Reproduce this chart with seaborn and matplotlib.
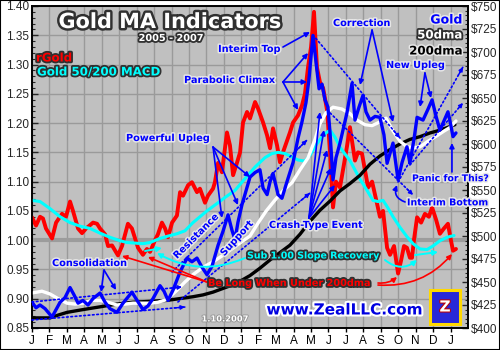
import numpy as np
import pandas as pd
import matplotlib
matplotlib.use("Agg")
import matplotlib.pyplot as plt
import matplotlib.patheffects as pe
from matplotlib.patches import Rectangle
from matplotlib.ticker import MultipleLocator, FuncFormatter
import seaborn as sns

# ---------------- data (time in months since Jan 2005) ----------------
month_labels = ["J", "F", "M", "A", "M", "J", "J", "A", "S", "O", "N", "D",
                "J", "F", "M", "A", "M", "J", "J", "A", "S", "O", "N", "D", "J"]

rgold_t = [0.00, 0.23, 0.46, 0.63, 0.80, 1.15, 1.38, 1.72, 1.95, 2.18, 2.35, 2.64, 2.87, 3.10,
           3.50, 3.73, 3.90, 4.19, 4.36, 4.59, 4.93, 5.16, 5.50, 5.73, 6.08, 6.36, 6.59, 6.77,
           7.05, 7.22, 7.45, 7.63, 7.80, 8.03, 8.31, 8.49, 8.66, 8.95, 9.17, 9.46, 9.63, 9.92,
           10.09, 10.38, 10.49, 10.67, 10.89, 11.18, 11.35, 11.53, 11.75, 11.93, 12.10, 12.33,
           12.50, 12.79, 12.96, 13.25, 13.48, 13.65, 13.82, 14.05, 14.22, 14.39, 14.79, 14.97,
           15.25, 15.48, 15.65, 15.83, 16.00, 16.17,
           16.34, 16.51, 16.69, 16.92, 17.09, 17.26, 17.43, 17.66, 17.89, 18.06, 18.23, 18.52,
           18.69, 18.92, 19.09, 19.27, 19.50, 19.78, 19.95, 20.13, 20.36, 20.53, 20.76, 20.99,
           21.16, 21.33, 21.50, 21.67, 21.79, 21.90, 22.08, 22.31, 22.53, 22.76, 22.94, 23.17,
           23.39, 23.62, 23.85, 24.02, 24.14, 24.31]
rgold_v = [1.039, 1.025, 1.040, 1.037, 1.020, 1.003, 1.030, 1.045, 1.040, 1.066, 1.050, 1.020, 1.012, 1.020,
           1.030, 1.028, 1.020, 1.010, 0.990, 0.991, 0.974, 0.990, 1.028, 1.020, 0.987, 0.975, 0.985, 0.980,
           1.000, 1.010, 1.030, 1.020, 1.005, 1.030, 1.042, 1.082, 1.076, 1.094, 1.099, 1.082, 1.088, 1.064,
           1.076, 1.088, 1.099, 1.132, 1.116, 1.184, 1.162, 1.111, 1.132, 1.150, 1.201, 1.219,
           1.208, 1.236, 1.225, 1.201, 1.179, 1.157, 1.191, 1.162, 1.133, 1.150, 1.184, 1.201,
           1.213, 1.230, 1.250, 1.296, 1.330, 1.390,
           1.295, 1.270, 1.260, 1.222, 1.150, 1.056, 1.100, 1.090, 1.130, 1.160, 1.193, 1.136,
           1.150, 1.148, 1.120, 1.090, 1.100, 1.063, 1.040, 1.050, 0.987, 0.975, 0.990, 0.943,
           0.965, 0.990, 0.987, 0.970, 0.970, 1.000, 1.039, 1.030, 1.045, 1.040, 1.056, 1.035,
           1.011, 1.020, 1.028, 1.000, 0.982, 0.985]

gold_t = [0.00, 0.23, 0.46, 0.75, 1.15, 1.38, 1.61, 1.89, 2.18, 2.41, 2.64, 2.92, 3.21, 3.50,
          3.90, 4.19, 4.47, 4.87, 5.22, 5.73, 5.96, 6.36, 6.65, 6.94, 7.34, 7.57, 7.80, 8.08,
          8.49, 8.89, 9.17, 9.46, 9.75, 10.03, 10.32, 10.67, 10.95, 11.24, 11.47, 11.64, 11.81,
          12.04, 12.50, 12.79, 13.07, 13.25, 13.48, 13.65, 13.82, 14.11, 14.33, 14.62, 14.97,
          15.25, 15.48, 15.71, 15.88, 16.11, 16.28, 16.46, 16.63, 16.80, 16.97, 17.09, 17.26, 17.43,
          17.66, 17.89, 18.06, 18.35, 18.52, 18.75, 18.98, 19.15, 19.38, 19.67, 19.95, 20.18,
          20.36, 20.53, 20.70, 20.99, 21.22, 21.50, 21.67, 21.90, 22.08, 22.42, 22.71, 22.94,
          23.17, 23.39, 23.62, 23.85, 24.02, 24.14, 24.31]
gold_v = [428, 422, 425, 421, 412, 420, 428, 433, 444, 436, 427, 430, 425, 432,
          438, 428, 421, 417, 427, 439, 432, 420, 424, 432, 446, 440, 430, 441,
          461, 476, 472, 476, 466, 458, 467, 490, 505, 523, 506, 496, 515,
          534, 564, 569, 572, 552, 545, 559, 568, 545, 541, 559, 580,
          606, 624, 645, 670, 718, 690, 660, 665, 648, 640, 612, 561, 585,
          601, 620, 634, 666, 626, 640, 653, 635, 626, 630, 629, 610,
          579, 590, 601, 561, 580, 597, 579, 605, 629, 626, 638, 648,
          630, 615, 625, 635, 620, 608, 612]

macd_t = [0.00, 0.46, 1.03, 1.61, 2.18, 2.75, 3.33, 3.90, 4.47, 5.05, 5.45, 5.91, 6.36, 6.77,
          7.34, 7.80, 8.31, 8.77, 9.23, 9.63, 10.03, 10.49, 11.07, 11.64, 12.21, 12.79, 13.36,
          13.76, 14.11, 14.51, 14.91, 15.25, 15.65, 15.94, 16.23, 16.51, 16.80, 17.09, 17.37,
          17.66, 17.95, 18.23, 18.52, 18.81, 19.15, 19.55, 19.84, 20.13, 20.41, 20.70, 21.10,
          21.50, 21.85, 22.25, 22.65, 22.99, 23.39, 23.80, 24.20]
macd_v = [1.068, 1.066, 1.054, 1.040, 1.030, 1.024, 1.020, 1.012, 1.005, 0.999, 0.996, 0.995, 0.994, 0.996,
          1.003, 1.007, 1.011, 1.016, 1.030, 1.040, 1.050, 1.060, 1.073, 1.085, 1.105, 1.125, 1.141,
          1.148, 1.150, 1.148, 1.142, 1.137, 1.135, 1.145, 1.160, 1.172, 1.182, 1.188, 1.176,
          1.159, 1.147, 1.136, 1.120, 1.104, 1.088, 1.068, 1.066, 1.068, 1.055, 1.040, 1.022,
          1.006, 0.994, 0.985, 0.984, 0.990, 0.999, 1.005, 1.008]

ma50_t = [0.00, 0.57, 1.03, 1.49, 2.01, 2.47, 2.92, 3.44, 3.90, 4.36, 4.87, 5.33, 5.79, 6.31,
          6.77, 7.22, 7.74, 8.31, 8.77, 9.23, 9.81, 10.38, 10.95, 11.53, 12.04, 12.50, 12.96,
          13.42, 13.93, 14.39, 14.91, 15.37, 15.83, 16.23, 16.51, 16.86, 17.26, 17.77, 18.23,
          18.63, 19.09, 19.50, 19.95, 20.30, 20.64, 21.10, 21.50, 21.90, 22.25, 22.71, 23.22,
          23.62, 23.97, 24.31]
ma50_v = [438, 440, 437, 432, 427, 426, 427, 430, 430, 428, 425, 426, 427, 427,
          427, 428, 431, 441, 450, 458, 466, 472, 479, 487, 494, 500, 514,
          527, 539, 549, 558, 572, 585, 605, 622, 634, 640, 638, 633,
          626, 621, 620, 624, 628, 616, 603, 597, 596, 597, 603, 609,
          614, 618, 625]

ma200_t = [0.00, 0.57, 1.03, 1.49, 2.01, 2.92, 3.90, 4.87, 5.79, 6.77, 7.74, 8.49, 9.23, 9.81,
           10.38, 10.95, 11.53, 12.04, 12.50, 13.07, 13.65, 14.22, 14.79, 15.37, 15.94, 16.51,
           17.09, 17.66, 18.23, 18.81, 19.38, 19.95, 20.53, 21.10, 21.67, 22.25, 22.82, 23.39,
           23.97, 24.25]
ma200_v = [411, 411, 411, 414, 417, 420, 423, 426, 428, 429, 430, 432, 434, 436,
           439, 443, 447, 452, 457, 465, 474, 482, 490, 502, 516, 528,
           538, 549, 557, 566, 578, 587, 594, 600, 605, 608, 612, 615,
           619, 621]

# ---------------- figure ----------------
sns.set_style("ticks")
plt.rcParams['font.family'] = ['DejaVu Sans']

BLUE = '#0000ff'
RED = '#ff0000'
CYAN = '#00ffff'

fig = plt.figure(figsize=(5, 3.5), dpi=100)
fig.patch.set_facecolor('white')
ax = fig.add_axes([32 / 500, 22 / 350, 436 / 500, 322 / 350])
ax2 = ax.twinx()

ax.set_facecolor('#c0c0c0')
ax2.patch.set_visible(False)

# left-axis series
sns.lineplot(data=pd.DataFrame({'t': rgold_t, 'v': rgold_v}), x='t', y='v', ax=ax,
             color=RED, lw=2.8, zorder=3, estimator=None, sort=False)
sns.lineplot(data=pd.DataFrame({'t': macd_t, 'v': macd_v}), x='t', y='v', ax=ax,
             color=CYAN, lw=2.2, zorder=4, estimator=None, sort=False)
# right-axis series
sns.lineplot(data=pd.DataFrame({'t': ma200_t, 'v': ma200_v}), x='t', y='v', ax=ax2,
             color='black', lw=2.4, zorder=2, estimator=None, sort=False)
sns.lineplot(data=pd.DataFrame({'t': ma50_t, 'v': ma50_v}), x='t', y='v', ax=ax2,
             color='white', lw=2.4, zorder=2, estimator=None, sort=False)
sns.lineplot(data=pd.DataFrame({'t': gold_t, 'v': gold_v}), x='t', y='v', ax=ax2,
             color=BLUE, lw=2.4, zorder=3, estimator=None, sort=False)

ax.axhline(1.0, color='#9c9c9c', lw=3, zorder=1)

ax.set_xlim(0, 25)
ax.set_ylim(0.85, 1.40)
ax2.set_ylim(400, 750)
ax.set_xlabel('')
ax.set_ylabel('')
ax2.set_ylabel('')

ax.set_xticks(range(25))
ax.set_xticklabels(month_labels)
ax.yaxis.set_major_locator(MultipleLocator(0.05))
ax.yaxis.set_minor_locator(MultipleLocator(0.01))
ax.yaxis.set_major_formatter(FuncFormatter(lambda v, p: f"{v:.2f}"))
ax2.yaxis.set_major_locator(MultipleLocator(25))
ax2.yaxis.set_minor_locator(MultipleLocator(5))
ax2.yaxis.set_major_formatter(FuncFormatter(lambda v, p: f"${v:.0f}"))

ax.tick_params(axis='x', direction='out', length=3, width=1, pad=2, labelsize=8.5, colors='black')
ax.tick_params(axis='y', which='major', direction='in', length=4, width=1, pad=2, labelsize=8.5)
ax.tick_params(axis='y', which='minor', direction='in', length=2, width=0.8)
ax2.tick_params(axis='y', which='major', direction='in', length=4, width=1, pad=2, labelsize=8.5)
ax2.tick_params(axis='y', which='minor', direction='in', length=2, width=0.8)
for lab in ax.get_xticklabels() + ax.get_yticklabels() + ax2.get_yticklabels():
    lab.set_fontfamily('Liberation Sans')

ax.set_axisbelow(True)
ax.grid(True, which='major', color='#9a9a9a', lw=1)
ax2.grid(False)
for a in (ax, ax2):
    for s in a.spines.values():
        s.set_color('black')
        s.set_linewidth(1.2)

# ---------------- annotations (month, $ on right axis) ----------------
dark = [pe.withStroke(linewidth=2.6, foreground='#303030')]
light = [pe.withStroke(linewidth=2.2, foreground='#e6e6e6')]


def label(t, d, s, color=BLUE, size=7, ha='left', fx=light, rot=0, weight='bold'):
    ax2.text(t, d, s, color=color, fontsize=size, ha=ha, va='center', fontweight=weight,
             path_effects=fx, rotation=rot, clip_on=False, zorder=20)


def arrow(p0, p1, color=BLUE, rad=0.0, lw=1.2):
    ax2.annotate('', xy=p1, xytext=p0, zorder=15,
                 arrowprops=dict(arrowstyle='-|>', color=color, lw=lw, mutation_scale=7,
                                 shrinkA=0, shrinkB=0, connectionstyle=f'arc3,rad={rad}'))


def dotted(p0, p1, color=BLUE):
    ax2.annotate('', xy=p1, xytext=p0, zorder=14,
                 arrowprops=dict(arrowstyle='-', color=color, lw=1.2, ls=(0, (1, 1.6)),
                                 shrinkA=0, shrinkB=0))
    q = (p0[0] + 0.93 * (p1[0] - p0[0]), p0[1] + 0.93 * (p1[1] - p0[1]))
    ax2.annotate('', xy=p1, xytext=q, zorder=14,
                 arrowprops=dict(arrowstyle='-|>', color=color, lw=1.0, mutation_scale=6,
                                 shrinkA=0, shrinkB=0))


# titles / legend texts
label(7.91, 732.6, 'Gold MA Indicators', color='white', size=15, ha='center',
      fx=[pe.withStroke(linewidth=3.5, foreground='#303030')])
label(7.97, 715.2, '2005 - 2007', color='white', size=7, ha='center', fx=dark)
label(0.23, 693.5, 'rGold', color=RED, size=8.5, fx=dark)
label(0.29, 678.3, 'Gold 50/200 MACD', color=CYAN, size=8.5, fx=dark)
label(24.66, 734.8, 'Gold', color=BLUE, size=9, ha='right', fx=light)
label(24.66, 718.5, '50dma', color='white', size=8.5, ha='right', fx=dark)
label(24.66, 701.1, '200dma', color='black', size=8.5, ha='right', fx=light)

# blue annotation texts
label(10.67, 703.3, 'Interim Top')
label(8.72, 669.6, 'Parabolic Climax')
label(5.39, 606.5, 'Powerful Upleg')
label(17.26, 731.5, 'Correction')
label(20.30, 685.9, 'New Upleg')
label(21.79, 562.3, 'Panic for This?', size=6.7)
label(21.50, 536.0, 'Interim Bottom', size=6.8)
label(13.59, 512.0, 'Crash-Type Event')
label(1.15, 470.6, 'Consolidation')
label(9.40, 500.0, 'Resistance', ha='center', rot=45)
label(11.75, 497.8, 'Support', ha='center', rot=48)
label(12.33, 478.3, 'Sub 1.00 Slope Recovery', color=CYAN, size=6.8, fx=dark)
label(10.09, 448.9, 'Be Long When Under 200dma', color=RED, size=7, fx=dark)
label(11.07, 409.8, '1.10.2007', color='white', size=6, ha='center',
      fx=[pe.withStroke(linewidth=1.2, foreground='#909090')])
label(17.89, 419.6, 'www.ZealLLC.com', color='#0000e0', size=11, ha='center',
      fx=[pe.withStroke(linewidth=3, foreground='white')])

# logo box
ax2.add_patch(Rectangle((22.82, 404.3), 1.72, 37.0, facecolor='#2828d8', edgecolor='#ffd800',
                        lw=2.2, zorder=16, clip_on=False))
ax2.text(23.68, 422.8, 'Z', color='white', fontsize=11, fontweight='bold', ha='center',
         va='center', zorder=17, path_effects=[pe.withStroke(linewidth=1.5, foreground='#c00000')])

# solid blue arrows
arrow((14.39, 705.4), (15.94, 721.7))
for p in [(15.83, 698.9), (15.77, 667.4), (15.25, 637.0)]:
    arrow((14.39, 667.4), p)
for p in [(12.50, 564.1), (11.81, 533.7), (10.89, 519.6)]:
    arrow((10.38, 596.7), p)
for p in [(18.81, 664.1), (20.70, 623.9)]:
    arrow((19.50, 723.9), p)
for p in [(22.25, 640.2), (22.88, 650.0)]:
    arrow((22.53, 677.2), p)
arrow((24.08, 569.6), (24.08, 601.1))
arrow((21.39, 537.0), (20.93, 555.4), rad=-0.5)
for p in [(16.51, 634.8), (16.74, 615.2), (16.92, 593.5), (17.14, 573.9), (17.37, 555.4)]:
    arrow((15.88, 519.6), p)
for p in [(3.96, 439.1), (4.82, 441.3)]:
    arrow((4.13, 463.0), p)

# red arrows
for p in [(5.16, 478.3), (6.65, 477.2)]:
    arrow((10.03, 450.0), p, color=RED)
arrow((19.84, 448.9), (20.93, 455.4), color=RED, rad=0.2)
arrow((19.84, 446.7), (24.08, 480.4), color=RED, rad=0.25)

# cyan arrows
arrow((12.21, 476.1), (7.17, 481.5), color=CYAN, rad=-0.25, lw=1.4)
arrow((6.48, 483.7), (7.45, 486.9), color=CYAN, lw=1.4)
arrow((20.24, 473.9), (22.08, 473.9), color=CYAN, rad=0.4, lw=1.4)
arrow((21.96, 479.3), (23.28, 482.6), color=CYAN, lw=1.4)

# dotted trend channels
dotted((0.0, 428.3), (8.60, 444.6))
dotted((0.0, 408.7), (8.77, 422.8))
dotted((8.03, 460.9), (15.77, 604.3))
dotted((8.37, 428.3), (15.94, 546.7))
dotted((16.11, 718.5), (21.10, 606.5))
dotted((16.92, 637.0), (21.85, 544.6))
dotted((20.99, 558.7), (24.71, 683.7))
dotted((21.67, 577.2), (24.71, 644.6))

# outer frame
fig.patches.append(Rectangle((0, 0), 1, 1, transform=fig.transFigure, fill=False,
                             edgecolor='black', lw=1.5, zorder=50))

fig.savefig('out.png', dpi=100, facecolor='white')
